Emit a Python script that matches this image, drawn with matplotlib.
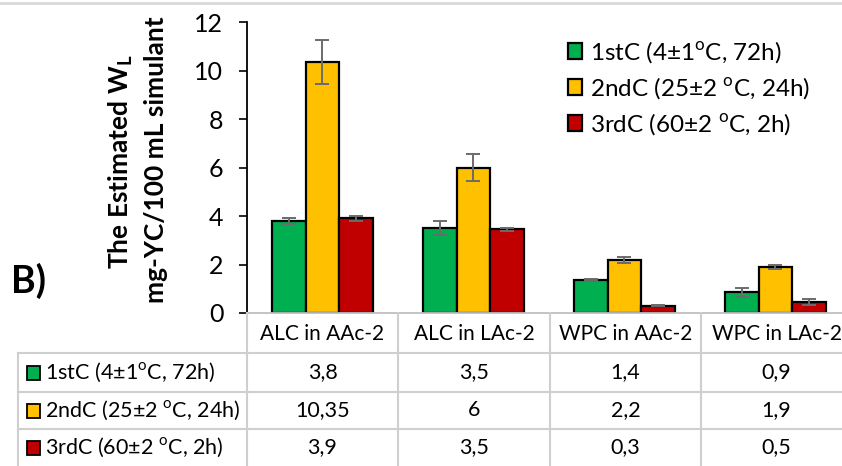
import matplotlib
matplotlib.use("Agg")
import matplotlib.pyplot as plt
from matplotlib.lines import Line2D
from matplotlib.patches import Rectangle

# data
groups = ["ALC in AAc-2", "ALC in LAc-2", "WPC in AAc-2", "WPC in LAc-2"]
series = ["1stC (4±1$^\\mathrm{o}$C, 72h)",
          "2ndC (25±2 $^\\mathrm{o}$C, 24h)",
          "3rdC (60±2 $^\\mathrm{o}$C, 2h)"]
first = [3.8, 3.5, 1.35, 0.85]
second = [10.35, 6.0, 2.2, 1.9]
third = [3.9, 3.45, 0.3, 0.45]
first_err = [0.12, 0.3, 0.05, 0.2]
second_err = [0.9, 0.55, 0.12, 0.1]
third_err = [0.12, 0.05, 0.03, 0.12]
table_first = ["3,8", "3,5", "1,4", "0,9"]
table_second = ["10,35", "6", "2,2", "1,9"]
table_third = ["3,9", "3,5", "0,3", "0,5"]
colors = ["#00B050", "#FFC000", "#C00000"]

FONT = "Lato"
plt.rcParams["font.family"] = [FONT, "DejaVu Sans"]
plt.rcParams["mathtext.fontset"] = "custom"
plt.rcParams["mathtext.rm"] = FONT
plt.rcParams["mathtext.bf"] = FONT + ":bold"

W, H = 842, 466
fig = plt.figure(figsize=(W / 100, H / 100), dpi=100)


def fx(px):
    return px / W


def fy(py):
    return 1 - py / H


# axes in pixel terms: left 247, y=0 at 313, y=12 at 22, one group = 151 px
ax = fig.add_axes([fx(247), fy(313), 604 / W, 291 / H])
ax.set_xlim(-0.5, 3.5)
ax.set_ylim(0, 12)

width = 0.225
vals = [first, second, third]
errs = [first_err, second_err, third_err]
x = range(len(groups))
for i in range(3):
    pos = [k + (i - 1) * width for k in x]
    ax.bar(pos, vals[i], width, color=colors[i], edgecolor="black",
           linewidth=1.6, label=series[i], zorder=2)
    ax.errorbar(pos, vals[i], yerr=errs[i], fmt="none", ecolor="#6b6b6b",
                elinewidth=1.4, capsize=5, capthick=1.4, zorder=3)

ax.set_yticks(range(0, 13, 2))
ax.tick_params(axis="y", labelsize=18, length=6, width=1.2, direction="out",
               pad=11)
ax.set_xticks([])
for s in ["top", "right"]:
    ax.spines[s].set_visible(False)
ax.spines["left"].set_linewidth(1.3)
ax.spines["bottom"].set_color("#bfbfbf")
ax.spines["bottom"].set_linewidth(1.3)

leg = ax.legend(loc="upper left", bbox_to_anchor=(0.515, 0.975), frameon=False,
                fontsize=17.5, handlelength=0.6, handleheight=0.6,
                handletextpad=0.3, labelspacing=0.42, borderaxespad=0)

# y label and panel letter
fig.text(fx(121), fy(162), "The Estimated W$_{\\mathbf{L}}$", rotation=90,
         ha="center", va="center", fontsize=19, fontweight="bold")
fig.text(fx(156), fy(160), "mg-YC/100 mL simulant", rotation=90,
         ha="center", va="center", fontsize=19, fontweight="bold")
fig.text(fx(11), fy(281), "B)", ha="left", va="center", fontsize=27,
         fontweight="bold")

# top border of the original picture
fig.add_artist(Line2D([0, 1], [fy(3), fy(3)], color="#d9d9d9", lw=2))

# data table under the chart
grid = "#cfcfcf"
col_x = [247, 398, 550, 701, 852]
row_y = [313, 353, 392, 429, 466]
for cx in col_x:
    fig.add_artist(Line2D([fx(cx), fx(cx)], [fy(313), fy(466)], color=grid, lw=1.5))
fig.add_artist(Line2D([fx(18), fx(18)], [fy(353), fy(466)], color=grid, lw=1.5))
for ry in row_y[1:4]:
    fig.add_artist(Line2D([fx(18), 1], [fy(ry), fy(ry)], color=grid, lw=1.5))

for j, g in enumerate(groups):
    cx = (col_x[j] + col_x[j + 1]) / 2
    fig.text(fx(cx), fy(334), g, ha="center", va="center", fontsize=15)
rows = [table_first, table_second, table_third]
for i in range(3):
    cy = (row_y[i + 1] + row_y[i + 2]) / 2
    fig.add_artist(Rectangle((fx(27), fy(cy + 7)), 13 / W, 14 / H,
                             facecolor=colors[i], edgecolor="black", lw=1.3))
    fig.text(fx(45), fy(cy), series[i], ha="left", va="center", fontsize=15.5)
    for j in range(4):
        cx = (col_x[j] + col_x[j + 1]) / 2
        fig.text(fx(cx), fy(cy), rows[i][j], ha="center", va="center",
                 fontsize=15.5)

fig.savefig("out.png", dpi=100)
